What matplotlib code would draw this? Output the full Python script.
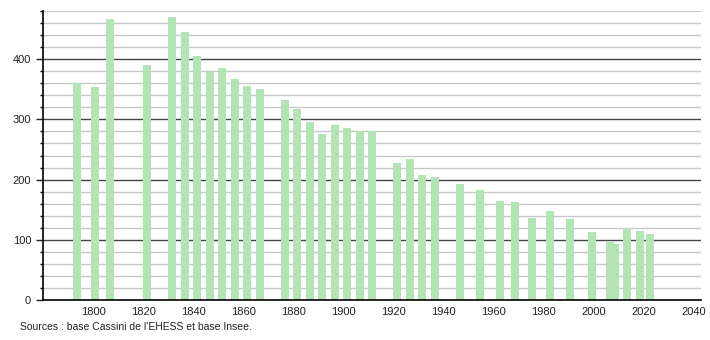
import matplotlib
matplotlib.use("Agg")
import matplotlib.pyplot as plt
import numpy as np

years = [1793, 1800, 1806, 1821, 1831, 1836, 1841, 1846, 1851, 1856, 1861, 1866,
         1876, 1881, 1886, 1891, 1896, 1901, 1906, 1911, 1921, 1926, 1931, 1936,
         1946, 1954, 1962, 1968, 1975, 1982, 1990, 1999, 2006, 2008, 2013, 2018, 2022]
population = [360, 354, 467, 390, 470, 445, 405, 378, 385, 367, 355, 350,
              332, 317, 295, 275, 290, 285, 281, 280, 227, 235, 208, 205,
              193, 182, 165, 162, 137, 148, 135, 113, 96, 93, 120, 115, 110]
x_ticks = list(range(1800, 2041, 20))
y_ticks = [0, 100, 200, 300, 400]

plt.rcParams["font.family"] = ["Liberation Sans", "DejaVu Sans"]

fig = plt.figure(figsize=(7.1, 3.4), dpi=100)
ax = fig.add_axes([43 / 710, 40 / 340, 658 / 710, 289 / 340])

# minor and major horizontal grid
for v in range(20, 481, 20):
    if v % 100 == 0:
        ax.axhline(v, color="#444444", linewidth=1.0, zorder=1)
    else:
        ax.axhline(v, color="#c8c8c8", linewidth=1.0, zorder=1)

ax.bar(np.array(years) - 1.0, population, width=3.2, align="edge",
       color="#b3e4b3", zorder=2)

ax.set_xlim(1780, 2043)
ax.set_ylim(0, 480)
ax.set_xticks(x_ticks)
ax.set_yticks(y_ticks)
ax.set_yticks(range(0, 481, 20), minor=True)
ax.tick_params(axis="x", length=0, labelsize=8, pad=5, colors="#222222")
ax.tick_params(axis="y", which="major", length=5, width=1, labelsize=8, colors="#222222")
ax.tick_params(axis="y", which="minor", length=2.5, width=1)

for s in ["top", "right"]:
    ax.spines[s].set_visible(False)
ax.spines["left"].set_linewidth(1.2)
ax.spines["bottom"].set_linewidth(1.2)
ax.spines["bottom"].set_zorder(3)

fig.text(20 / 710, 1 - 327 / 340, "Sources : base Cassini de l'EHESS et base Insee.",
         fontsize=7.5, va="center", ha="left", color="#222222")

fig.savefig("out.png", dpi=100)
